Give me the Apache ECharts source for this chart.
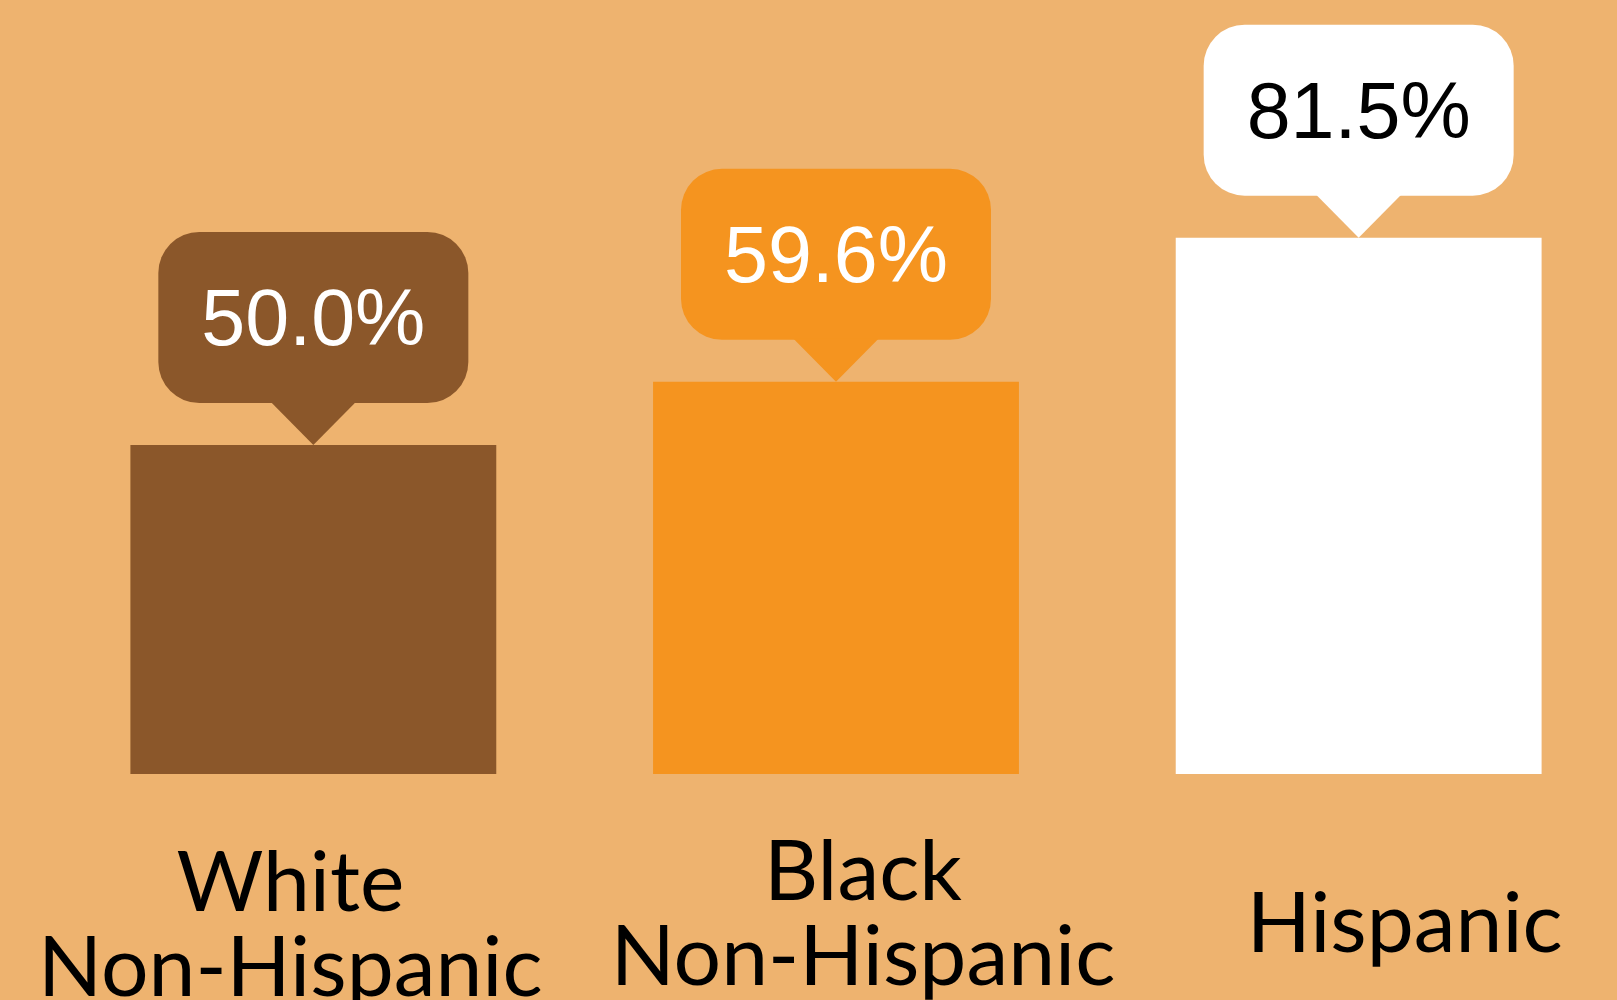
<!DOCTYPE html>
<html>
<head>
<meta charset="utf-8">
<script src="https://cdn.jsdelivr.net/npm/echarts@6/dist/echarts.min.js"></script>
<style>
html,body{margin:0;padding:0;background:#EEB36F;}
#chart{width:1617px;height:1000px;}
</style>
</head>
<body>
<div id="chart"></div>
<script>
const categories = ['White\nNon-Hispanic', 'Black\nNon-Hispanic', 'Hispanic'];
const values = [50.0, 59.6, 81.5];
const barColors = ['#8B572A', '#F5941F', '#FFFFFF'];
const labelTextColors = ['#FFFFFF', '#FFFFFF', '#000000'];
// per-category label nudges [top, right, bottom, left] padding
const catPadding = [[11, 46, 0, 0], [0, 0, 0, 54], [52, 0, 0, 92]];

const chart = echarts.init(document.getElementById('chart'));
chart.setOption({
  backgroundColor: '#EEB36F',
  animation: false,
  grid: { left: 52, right: -3, top: 116, bottom: 226, containLabel: false, outerBoundsMode: 'none' },
  xAxis: {
    type: 'category',
    data: categories.map((c, i) => ({ value: c, textStyle: { padding: catPadding[i] } })),
    axisLine: { show: false },
    axisTick: { show: false },
    splitLine: { show: false },
    axisLabel: {
      interval: 0,
      fontFamily: 'Lato',
      fontSize: 84,
      lineHeight: 85,
      color: '#000000',
      margin: 56
    }
  },
  yAxis: {
    type: 'value',
    min: 0,
    max: 100,
    show: false,
    splitLine: { show: false }
  },
  series: [
    {
      type: 'bar',
      barCategoryGap: '30%',
      data: values.map((v, i) => ({
        value: v,
        itemStyle: { color: barColors[i] },
        label: { color: labelTextColors[i], backgroundColor: barColors[i] }
      })),
      label: {
        show: true,
        position: 'top',
        distance: 42,
        fontFamily: 'Liberation Sans',
        fontSize: 79,
        lineHeight: 80,
        padding: [51, 43, 40, 43],
        borderRadius: 41,
        formatter: p => p.value.toFixed(1) + '%'
      }
    },
    {
      type: 'scatter',
      z: 5,
      silent: true,
      symbol: 'path://M0,0L2,0L1,1Z',
      symbolSize: [85, 43],
      symbolOffset: [0, '-50%'],
      data: values.map((v, i) => ({ value: [categories[i], v], itemStyle: { color: barColors[i], opacity: 1 } }))
    }
  ]
});
</script>
</body>
</html>
